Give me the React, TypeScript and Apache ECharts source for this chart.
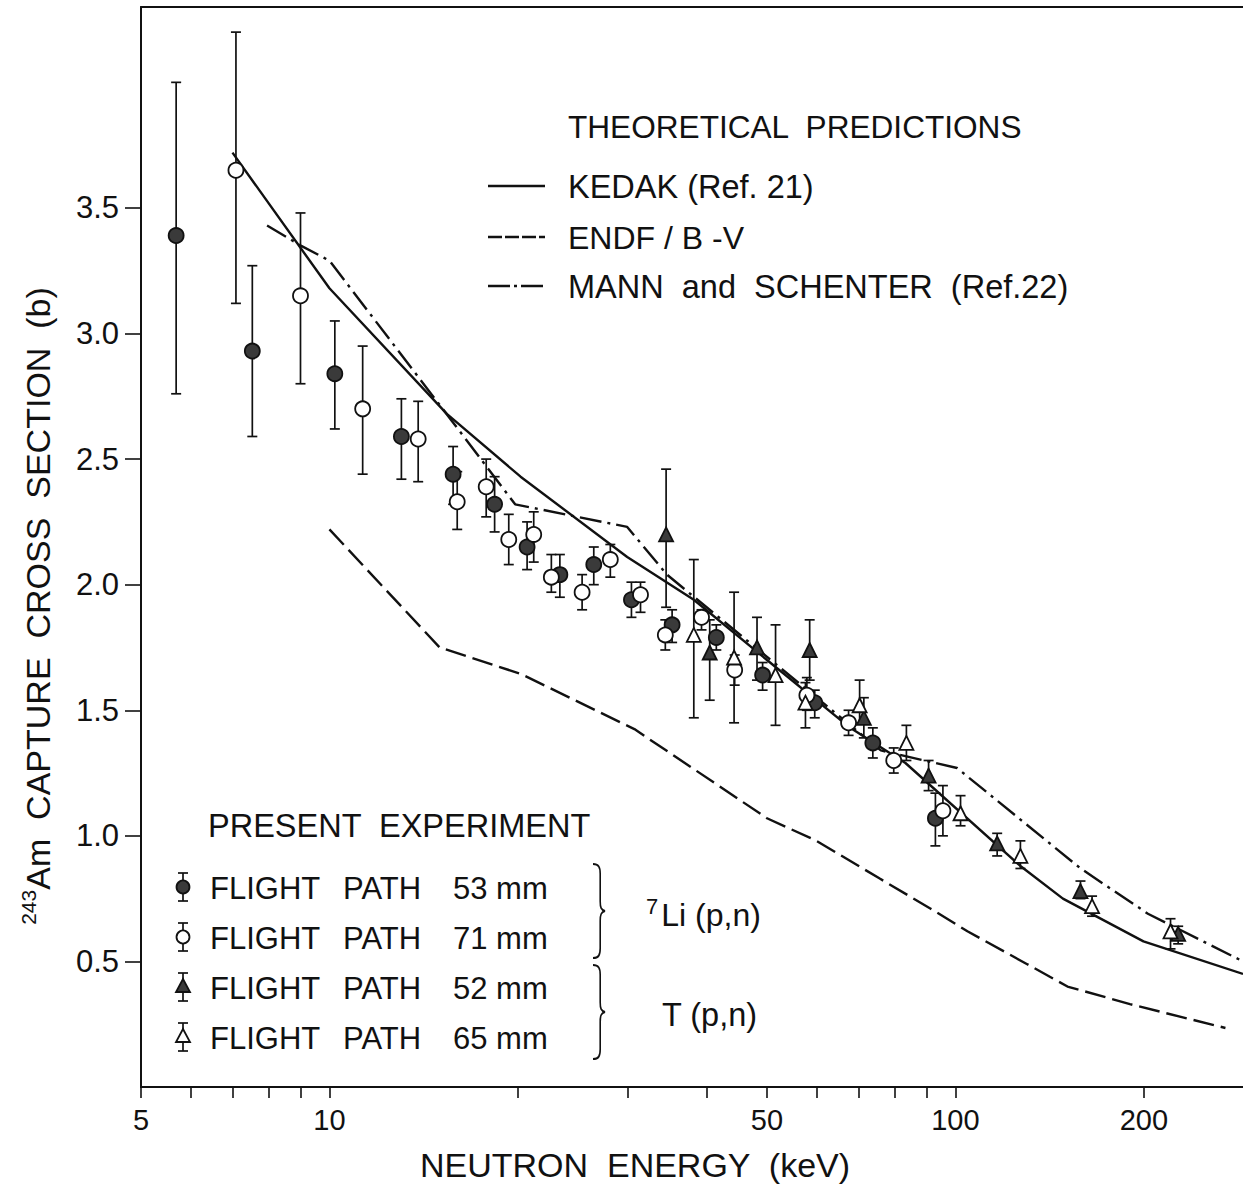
import React, { useEffect, useRef } from 'react';
import * as echarts from 'echarts';

const FONT = "'Liberation Sans', Arial, sans-serif";

// ---- axis ticks ----
const xLabelValues = [5, 10, 50, 100, 200];
const xTickValues = [5, 6, 7, 8, 9, 10, 20, 30, 40, 50, 60, 70, 80, 90, 100, 200];
const yTickValues = [0.5, 1.0, 1.5, 2.0, 2.5, 3.0, 3.5];
const xMin = 5;
const xMax = 288;
const yMin = 0;
const yMax = 4.3;

// ---- theoretical predictions ----
const kedakE = [7.0, 10, 15.4, 20.2, 29.9, 38.2, 50, 67.9, 83.2, 127, 148.5, 199.7, 288];
const kedakV = [3.72, 3.18, 2.68, 2.43, 2.11, 1.94, 1.7, 1.43, 1.29, 0.88, 0.75, 0.58, 0.45];

const endfE = [10, 15.0, 20.2, 30.7, 50, 60, 75.7, 91.3, 104.5, 130, 151, 190, 270];
const endfV = [2.22, 1.75, 1.645, 1.425, 1.07, 0.98, 0.83, 0.71, 0.62, 0.49, 0.4, 0.33, 0.235];

const mannE = [7.95, 9.0, 10.0, 15.6, 19.8, 29.9, 34.6, 76, 100.6, 158.5, 203, 288];
const mannV = [3.43, 3.35, 3.29, 2.66, 2.32, 2.23, 2.04, 1.34, 1.27, 0.87, 0.69, 0.5];

// ---- present experiment ----
// flight path 53 mm (filled circles)
const fp53E = [5.69, 7.53, 10.2, 13.03, 15.76, 18.36, 20.69, 23.34, 26.44, 30.37, 35.27, 41.5, 49.2, 59.6, 73.8, 92.9];
const fp53V = [3.39, 2.93, 2.84, 2.59, 2.44, 2.32, 2.15, 2.04, 2.08, 1.94, 1.84, 1.79, 1.64, 1.53, 1.37, 1.07];
const fp53Lo = [2.76, 2.59, 2.62, 2.42, 2.32, 2.21, 2.06, 1.95, 2.0, 1.87, 1.77, 1.74, 1.58, 1.47, 1.31, 0.96];
const fp53Hi = [4.0, 3.27, 3.05, 2.74, 2.55, 2.43, 2.25, 2.12, 2.15, 2.01, 1.9, 1.84, 1.69, 1.58, 1.43, 1.17];

// flight path 71 mm (open circles)
const fp71E = [7.09, 8.99, 11.3, 13.86, 16.0, 17.8, 19.34, 21.2, 22.62, 25.33, 28.1, 31.4, 34.4, 39.3, 44.4, 57.9, 67.5, 79.7, 95.5];
const fp71V = [3.65, 3.15, 2.7, 2.58, 2.33, 2.39, 2.18, 2.2, 2.03, 1.97, 2.1, 1.96, 1.8, 1.87, 1.66, 1.56, 1.45, 1.3, 1.1];
const fp71Lo = [3.12, 2.8, 2.44, 2.41, 2.22, 2.27, 2.08, 2.09, 1.97, 1.9, 2.03, 1.89, 1.74, 1.82, 1.6, 1.5, 1.4, 1.25, 1.0];
const fp71Hi = [4.2, 3.48, 2.95, 2.73, 2.45, 2.5, 2.28, 2.29, 2.12, 2.04, 2.16, 2.01, 1.86, 1.9, 1.72, 1.63, 1.5, 1.35, 1.2];

// flight path 52 mm (filled triangles)
const fp52E = [34.5, 40.5, 48.2, 58.5, 71.4, 90.6, 116.6, 158.4, 226.9];
const fp52V = [2.2, 1.73, 1.75, 1.74, 1.47, 1.24, 0.97, 0.78, 0.61];
const fp52Lo = [1.91, 1.54, 1.62, 1.62, 1.39, 1.18, 0.92, 0.75, 0.57];
const fp52Hi = [2.46, 1.86, 1.87, 1.86, 1.55, 1.3, 1.01, 0.82, 0.64];

// flight path 65 mm (open triangles)
const fp65E = [38.2, 44.3, 51.6, 57.6, 70.3, 83.5, 101.9, 127, 165.3, 220.6];
const fp65V = [1.8, 1.71, 1.64, 1.53, 1.52, 1.37, 1.09, 0.92, 0.72, 0.62];
const fp65Lo = [1.47, 1.45, 1.44, 1.43, 1.45, 1.3, 1.04, 0.87, 0.68, 0.55];
const fp65Hi = [2.1, 1.97, 1.84, 1.61, 1.62, 1.44, 1.16, 0.98, 0.76, 0.67];

const lg = (v: number) => Math.log10(v);

function lineSeries(name: string, E: number[], V: number[], type: any) {
  return {
    name,
    type: 'line',
    data: E.map((e, i) => [lg(e), V[i]]),
    showSymbol: false,
    symbol: 'none',
    z: 3,
    silent: true,
    lineStyle: { color: '#111', width: 2.4, type },
  };
}

function errSeries(E: number[], lo: number[], hi: number[]) {
  return {
    type: 'custom',
    z: 2,
    silent: true,
    data: E.map((e, i) => [lg(e), lo[i], hi[i]]),
    encode: { x: 0, y: [1, 2] },
    renderItem: (params: any, api: any) => {
      const x = api.value(0);
      const a = api.coord([x, api.value(1)]);
      const b = api.coord([x, api.value(2)]);
      const w = 5;
      const style = { stroke: '#111', lineWidth: 1.7 };
      return {
        type: 'group',
        children: [
          { type: 'line', shape: { x1: a[0], y1: a[1], x2: b[0], y2: b[1] }, style },
          { type: 'line', shape: { x1: a[0] - w, y1: a[1], x2: a[0] + w, y2: a[1] }, style },
          { type: 'line', shape: { x1: b[0] - w, y1: b[1], x2: b[0] + w, y2: b[1] }, style },
        ],
      };
    },
  };
}

function scatterSeries(name: string, E: number[], V: number[], symbol: string, filled: boolean, size: number) {
  return {
    name,
    type: 'scatter',
    z: 4,
    silent: true,
    symbol,
    symbolSize: size,
    data: E.map((e, i) => [lg(e), V[i]]),
    itemStyle: {
      color: filled ? '#3a3a3a' : '#ffffff',
      borderColor: '#111',
      borderWidth: 1.8,
      opacity: 1,
    },
  };
}

export default function App() {
  const ref = useRef<HTMLDivElement>(null);

  useEffect(() => {
    if (!ref.current) return;
    const braceD =
      'M0,0 C7,0 9,3 9,10 L9,38 C9,44 10,47 15,48 C10,49 9,52 9,58 L9,86 C9,93 7,96 0,96';
    echarts.graphic.registerShape('brace', echarts.graphic.extendPath(braceD, {}) as any);

    const chart = echarts.init(ref.current, null, { renderer: 'svg' });

    const txt = (text: string, x: number, y: number, size: number, extra: any = {}) => ({
      type: 'text',
      x,
      y,
      silent: true,
      style: {
        text,
        fontFamily: FONT,
        fontSize: size,
        fill: '#111',
        verticalAlign: 'middle',
        align: 'left',
        ...extra,
      },
    });

    const legendRowsY = [887, 937, 987, 1037];
    const legendNames = ['53 mm', '71 mm', '52 mm', '65 mm'];
    const mkX = 183;
    const legendMarks: any[] = [];
    legendRowsY.forEach((y, i) => {
      const st = { stroke: '#111', lineWidth: 1.7 };
      legendMarks.push({ type: 'line', shape: { x1: mkX, y1: y - 14, x2: mkX, y2: y + 14 }, style: st, silent: true });
      legendMarks.push({ type: 'line', shape: { x1: mkX - 5, y1: y - 14, x2: mkX + 5, y2: y - 14 }, style: st, silent: true });
      legendMarks.push({ type: 'line', shape: { x1: mkX - 5, y1: y + 14, x2: mkX + 5, y2: y + 14 }, style: st, silent: true });
      const fill = i === 0 || i === 2 ? '#3a3a3a' : '#ffffff';
      if (i < 2) {
        legendMarks.push({ type: 'circle', shape: { cx: mkX, cy: y, r: 6.5 }, style: { fill, stroke: '#111', lineWidth: 1.8 }, silent: true });
      } else {
        legendMarks.push({
          type: 'polygon',
          shape: { points: [[mkX, y - 8], [mkX - 7, y + 5], [mkX + 7, y + 5]] },
          style: { fill, stroke: '#111', lineWidth: 1.8 },
          silent: true,
        });
      }
      legendMarks.push(txt('FLIGHT', 210, y + 1, 31));
      legendMarks.push(txt('PATH', 343, y + 1, 31));
      legendMarks.push(txt(legendNames[i], 453, y + 1, 31));
    });

    const option: any = {
      animation: false,
      backgroundColor: '#ffffff',
      grid: { left: 141, top: 7, right: 0, bottom: 109, containLabel: false },
      xAxis: [
        {
          type: 'value',
          min: lg(xMin),
          max: lg(xMax),
          splitLine: { show: false },
          axisLine: { show: true, onZero: false, lineStyle: { color: '#111', width: 2 } },
          axisTick: {
            show: true,
            inside: false,
            length: 11,
            customValues: xTickValues.map(lg),
            lineStyle: { color: '#111', width: 1.6 },
          },
          axisLabel: {
            show: true,
            customValues: xLabelValues.map(lg),
            formatter: (v: number) => String(Math.round(Math.pow(10, v))),
            fontFamily: FONT,
            fontSize: 29,
            color: '#111',
            margin: 18,
            showMinLabel: true,
            showMaxLabel: true,
          },
        },
        {
          type: 'value',
          position: 'top',
          min: lg(xMin),
          max: lg(xMax),
          splitLine: { show: false },
          axisLine: { show: true, onZero: false, lineStyle: { color: '#111', width: 2 } },
          axisTick: { show: false },
          axisLabel: { show: false },
        },
      ],
      yAxis: {
        type: 'value',
        min: yMin,
        max: yMax,
        splitLine: { show: false },
        axisLine: { show: true, onZero: false, lineStyle: { color: '#111', width: 2 } },
        axisTick: {
          show: true,
          length: 16,
          customValues: yTickValues,
          lineStyle: { color: '#111', width: 1.6 },
        },
        axisLabel: {
          show: true,
          customValues: yTickValues,
          formatter: (v: number) => v.toFixed(1),
          fontFamily: FONT,
          fontSize: 31,
          color: '#111',
          margin: 22,
        },
      },
      series: [
        lineSeries('KEDAK (Ref. 21)', kedakE, kedakV, 'solid'),
        lineSeries('ENDF / B -V', endfE, endfV, [21, 7]),
        lineSeries('MANN and SCHENTER (Ref.22)', mannE, mannV, [22, 6, 3, 6]),
        errSeries(fp53E, fp53Lo, fp53Hi),
        errSeries(fp71E, fp71Lo, fp71Hi),
        errSeries(fp52E, fp52Lo, fp52Hi),
        errSeries(fp65E, fp65Lo, fp65Hi),
        scatterSeries('FLIGHT PATH 53 mm', fp53E, fp53V, 'circle', true, 15),
        scatterSeries('FLIGHT PATH 71 mm', fp71E, fp71V, 'circle', false, 15),
        scatterSeries('FLIGHT PATH 52 mm', fp52E, fp52V, 'triangle', true, 14),
        scatterSeries('FLIGHT PATH 65 mm', fp65E, fp65V, 'triangle', false, 14),
      ],
      graphic: [
        // axis titles
        {
          type: 'text',
          x: 38,
          y: 606,
          rotation: Math.PI / 2,
          silent: true,
          style: {
            text: '{s|243}{n|Am  CAPTURE  CROSS  SECTION  (b)}',
            align: 'center',
            verticalAlign: 'middle',
            fill: '#111',
            rich: {
              s: { fontFamily: FONT, fontSize: 21, verticalAlign: 'top', lineHeight: 22, fill: '#111' },
              n: { fontFamily: FONT, fontSize: 34, lineHeight: 40, fill: '#111' },
            },
          },
        },
        txt('NEUTRON  ENERGY  (keV)', 635, 1165, 34, { align: 'center' }),
        // theoretical legend
        txt('THEORETICAL  PREDICTIONS', 568, 127, 31.6),
        { type: 'line', silent: true, shape: { x1: 488, y1: 186, x2: 545, y2: 186 }, style: { stroke: '#111', lineWidth: 2.4 } },
        { type: 'line', silent: true, shape: { x1: 488, y1: 237, x2: 545, y2: 237 }, style: { stroke: '#111', lineWidth: 2.4, lineDash: [14, 3] } },
        { type: 'line', silent: true, shape: { x1: 488, y1: 286, x2: 545, y2: 286 }, style: { stroke: '#111', lineWidth: 2.4, lineDash: [22, 4, 3, 4] } },
        txt('KEDAK (Ref. 21)', 568, 187, 32.5),
        txt('ENDF / B -V', 568, 238, 32),
        txt('MANN  and  SCHENTER  (Ref.22)', 568, 287, 32.5),
        // experiment legend
        txt('PRESENT  EXPERIMENT', 208, 826, 32.5),
        ...legendMarks,
        { type: 'brace', x: 593, y: 864, scaleX: 0.8, scaleY: 0.98, silent: true, style: { fill: 'none', stroke: '#111', lineWidth: 2 } },
        { type: 'brace', x: 593, y: 965, scaleX: 0.8, scaleY: 0.98, silent: true, style: { fill: 'none', stroke: '#111', lineWidth: 2 } },
        {
          type: 'text',
          x: 646,
          y: 915,
          silent: true,
          style: {
            text: '{s|7}{n|Li (p,n)}',
            align: 'left',
            verticalAlign: 'middle',
            fill: '#111',
            rich: {
              s: { fontFamily: FONT, fontSize: 22, verticalAlign: 'top', lineHeight: 22, fill: '#111', padding: [0, 3, 0, 0] },
              n: { fontFamily: FONT, fontSize: 32, lineHeight: 40, fill: '#111' },
            },
          },
        },
        txt('T (p,n)', 662, 1015, 32.5),
      ],
    };

    chart.setOption(option);
    return () => chart.dispose();
  }, []);

  return (
    <div
      ref={ref}
      style={{ position: 'absolute', left: 0, top: 0, width: 1243, height: 1196, background: '#fff' }}
    />
  );
}
